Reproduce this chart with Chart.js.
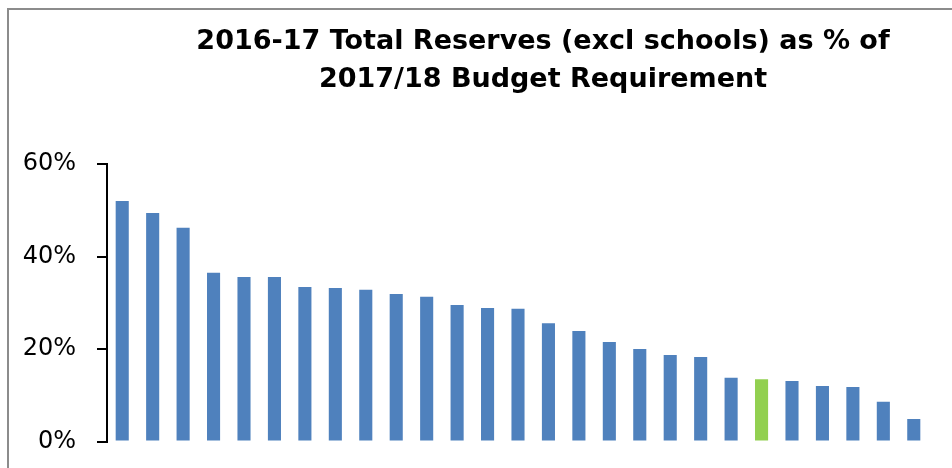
<!DOCTYPE html>
<html>
<head>
<meta charset="utf-8">
<script src="https://cdn.jsdelivr.net/npm/chart.js@4"></script>
<style>
  html, body { margin: 0; padding: 0; background: #fff; overflow: hidden; }
  #frame {
    position: absolute; left: 7px; top: 8px;
    width: 1068px; height: 467px;
    border: 2px solid #8c8c8c;
  }
  #frame canvas { display: block; }
</style>
</head>
<body>
<div id="frame"><canvas id="reserves" width="1068" height="467"></canvas></div>
<script>
// one bar per authority, sorted high to low (labels not shown on the original)
const authorities = [
  "A1", "A2", "A3", "A4", "A5", "A6", "A7", "A8", "A9",
  "A10", "A11", "A12", "A13", "A14", "A15", "A16", "A17", "A18",
  "A19", "A20", "A21", "A22", "A23", "A24", "A25", "A26", "A27"
];
const reservesPct = [
  52.0, 49.4, 46.2, 36.5, 35.6, 35.6, 33.4, 33.2, 32.8,
  31.9, 31.3, 29.5, 28.9, 28.7, 25.6, 23.9, 21.5, 20.0,
  18.7, 18.3, 13.8, 13.5, 13.1, 12.0, 11.8, 8.6, 4.9
];
const highlighted = "A22"; // the green bar
const yTicks = [0, 20, 40, 60];

const BLUE = "#4f81bd";
const GREEN = "#92d050";

const ctx = document.getElementById("reserves").getContext("2d");
new Chart(ctx, {
  type: "bar",
  data: {
    labels: authorities,
    datasets: [
      {
        data: reservesPct,
        backgroundColor: authorities.map((a) => (a === highlighted ? GREEN : BLUE)),
        barPercentage: 0.43,
        categoryPercentage: 1,
      },
    ],
  },
  options: {
    responsive: false,
    animation: false,
    devicePixelRatio: 1,
    layout: { padding: 0 },
    scales: {
      x: { display: false },
      y: {
        min: 0,
        max: 60,
        afterBuildTicks: (s) => { s.ticks = yTicks.map((v) => ({ value: v })); },
        afterFit: (s) => { s.width = 98; },
        border: { display: true, color: "#000", width: 2 },
        grid: { drawOnChartArea: false, drawTicks: true, tickLength: 10, color: "#000", lineWidth: 2 },
        ticks: {
          padding: 21,
          color: "#000",
          font: { family: "DejaVu Sans", size: 24 },
          callback: (v) => v + "%",
        },
      },
      // empty right-hand gutter so the plot area stops where the original does
      gutter: {
        position: "right",
        grid: { display: false },
        border: { display: false },
        ticks: { display: false },
        afterFit: (s) => { s.width = 148; },
      },
    },
    plugins: {
      legend: { display: false },
      tooltip: { enabled: false },
      title: {
        display: true,
        text: ["2016-17 Total Reserves (excl schools) as % of", "2017/18 Budget Requirement"],
        color: "#000",
        font: { family: "DejaVu Sans", size: 27, weight: "bold", lineHeight: 1.444 },
        padding: { top: 12, bottom: 64 },
      },
    },
  },
});
</script>
</body>
</html>
